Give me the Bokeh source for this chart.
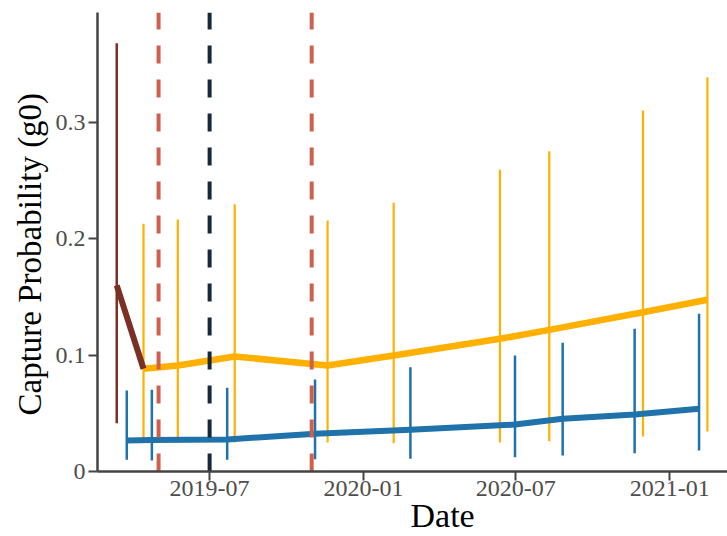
import pandas as pd
from bokeh.plotting import figure
from bokeh.models import (ColumnDataSource, FixedTicker, DatetimeTickFormatter,
                          CustomJSTickFormatter, Range1d, Title)
from bokeh.embed import file_html
from bokeh.resources import INLINE

# ---- data ----
brown_dates = ["2019-03-12"]
brown_est = [0.1597]
brown_lo = [0.0415]
brown_hi = [0.3676]

orange_dates = ["2019-04-13", "2019-05-24", "2019-07-31", "2019-11-19", "2020-02-06",
                "2020-06-12", "2020-08-10", "2020-11-30", "2021-02-15"]
orange_est = [0.0882, 0.0910, 0.0987, 0.0910, 0.0996, 0.1139, 0.1216, 0.1367, 0.1474]
orange_lo = [0.0249, 0.0249, 0.0249, 0.0249, 0.0243, 0.0249, 0.0260, 0.0300, 0.0343]
orange_hi = [0.2126, 0.2163, 0.2294, 0.2155, 0.2306, 0.2590, 0.2749, 0.3099, 0.3385]

blue_dates = ["2019-03-24", "2019-04-23", "2019-07-22", "2019-11-04", "2020-02-26",
              "2020-06-30", "2020-08-26", "2020-11-20", "2021-02-05"]
blue_est = [0.0266, 0.0270, 0.0275, 0.0324, 0.0358, 0.0403, 0.0452, 0.0489, 0.0538]
blue_lo = [0.0100, 0.0094, 0.0100, 0.0106, 0.0109, 0.0123, 0.0137, 0.0157, 0.0180]
blue_hi = [0.0695, 0.0701, 0.0718, 0.0790, 0.0895, 0.0996, 0.1105, 0.1225, 0.1354]

red_event_dates = ["2019-05-01", "2019-10-31"]
black_event_dates = ["2019-07-01"]

x_tick_dates = ["2019-07-01", "2020-01-01", "2020-07-01", "2021-01-01"]
y_ticks = [0, 0.1, 0.2, 0.3]

x_start, x_end = "2019-02-17", "2021-03-11"
y_start, y_end = 0.0, 0.394

x_title = "Date"
y_title = "Capture Probability (g0)"

# ---- colours ----
ORANGE = "#FFB000"
BLUE = "#1F72AA"
BROWN = "#7B3025"
RED = "#D0604D"
DARK = "#15293A"

SERIF = "Liberation Serif"

def dt(lst):
    return pd.to_datetime(lst)

xs, xe = pd.Timestamp(x_start), pd.Timestamp(x_end)
p = figure(width=727, height=536, x_axis_type="datetime",
           x_range=Range1d(xs, xe), y_range=Range1d(y_start, y_end),
           output_backend="svg", toolbar_location=None,
           min_border_left=97, min_border_right=0, min_border_top=12, min_border_bottom=65)
p.outline_line_color = None
p.xgrid.visible = False
p.ygrid.visible = False
p.background_fill_color = "white"
p.border_fill_color = "white"

# orange series
osrc = ColumnDataSource(dict(x=dt(orange_dates), y=orange_est, lo=orange_lo, hi=orange_hi))
p.segment(x0="x", x1="x", y0="lo", y1="hi", source=osrc, line_color=ORANGE, line_width=2.2)
p.line(x="x", y="y", source=osrc, line_color=ORANGE, line_width=6.5, line_join="round")

# blue series
bsrc = ColumnDataSource(dict(x=dt(blue_dates), y=blue_est, lo=blue_lo, hi=blue_hi))
p.segment(x0="x", x1="x", y0="lo", y1="hi", source=bsrc, line_color=BLUE, line_width=2.5)
p.line(x="x", y="y", source=bsrc, line_color=BLUE, line_width=6, line_join="round")

# brown series (connects to the first orange estimate)
brsrc = ColumnDataSource(dict(x=dt(brown_dates), y=brown_est, lo=brown_lo, hi=brown_hi))
p.segment(x0="x", x1="x", y0="lo", y1="hi", source=brsrc, line_color=BROWN, line_width=2.5)
p.line(x=list(dt(brown_dates)) + [dt(orange_dates)[0]], y=brown_est + [orange_est[0]],
       line_color=BROWN, line_width=6, line_join="round")

# event lines
rsrc = ColumnDataSource(dict(x=dt(red_event_dates), y0=[y_start] * len(red_event_dates),
                             y1=[y_end] * len(red_event_dates)))
p.segment(x0="x", x1="x", y0="y0", y1="y1", source=rsrc, line_color=RED, line_width=4,
          line_dash="18 16")
ksrc = ColumnDataSource(dict(x=dt(black_event_dates), y0=[y_start] * len(black_event_dates),
                             y1=[y_end] * len(black_event_dates)))
p.segment(x0="x", x1="x", y0="y0", y1="y1", source=ksrc, line_color=DARK, line_width=4,
          line_dash="18 16")

# axes
p.xaxis.ticker = FixedTicker(ticks=[pd.Timestamp(d).value / 1e6 for d in x_tick_dates])
fmt = "%Y-%m"
p.xaxis.formatter = DatetimeTickFormatter(microseconds=fmt, milliseconds=fmt, seconds=fmt,
                                          minsec=fmt, minutes=fmt, hourmin=fmt, hours=fmt,
                                          days=fmt, months=fmt, years=fmt)
p.yaxis.ticker = FixedTicker(ticks=y_ticks)
p.yaxis.formatter = CustomJSTickFormatter(code="return tick == 0 ? '0' : tick.toFixed(1);")

for ax in (p.xaxis[0], p.yaxis[0]):
    ax.axis_line_color = "#444444"
    ax.axis_line_width = 2.5
    ax.major_tick_line_color = "#444444"
    ax.major_tick_line_width = 2
    ax.major_tick_out = 9
    ax.major_tick_in = 0
    ax.minor_tick_out = 0
    ax.minor_tick_in = 0
    ax.major_label_text_font = SERIF
    ax.major_label_text_font_size = "24px"
    ax.major_label_text_color = "#4D4D4D"
p.xaxis.major_label_standoff = 0
p.yaxis.major_label_standoff = 3

# axis titles as side titles (aligned with an offset from the frame edge)
p.add_layout(Title(text=x_title, align="left", offset=313, standoff=-8,
                   text_font=SERIF, text_font_size="34px", text_font_style="normal",
                   text_color="#000000"), "below")
p.add_layout(Title(text=y_title, align="left", offset=56, standoff=10,
                   text_font=SERIF, text_font_size="33px", text_font_style="normal",
                   text_color="#000000"), "left")

open("out.html", "w").write(file_html(p, INLINE))
